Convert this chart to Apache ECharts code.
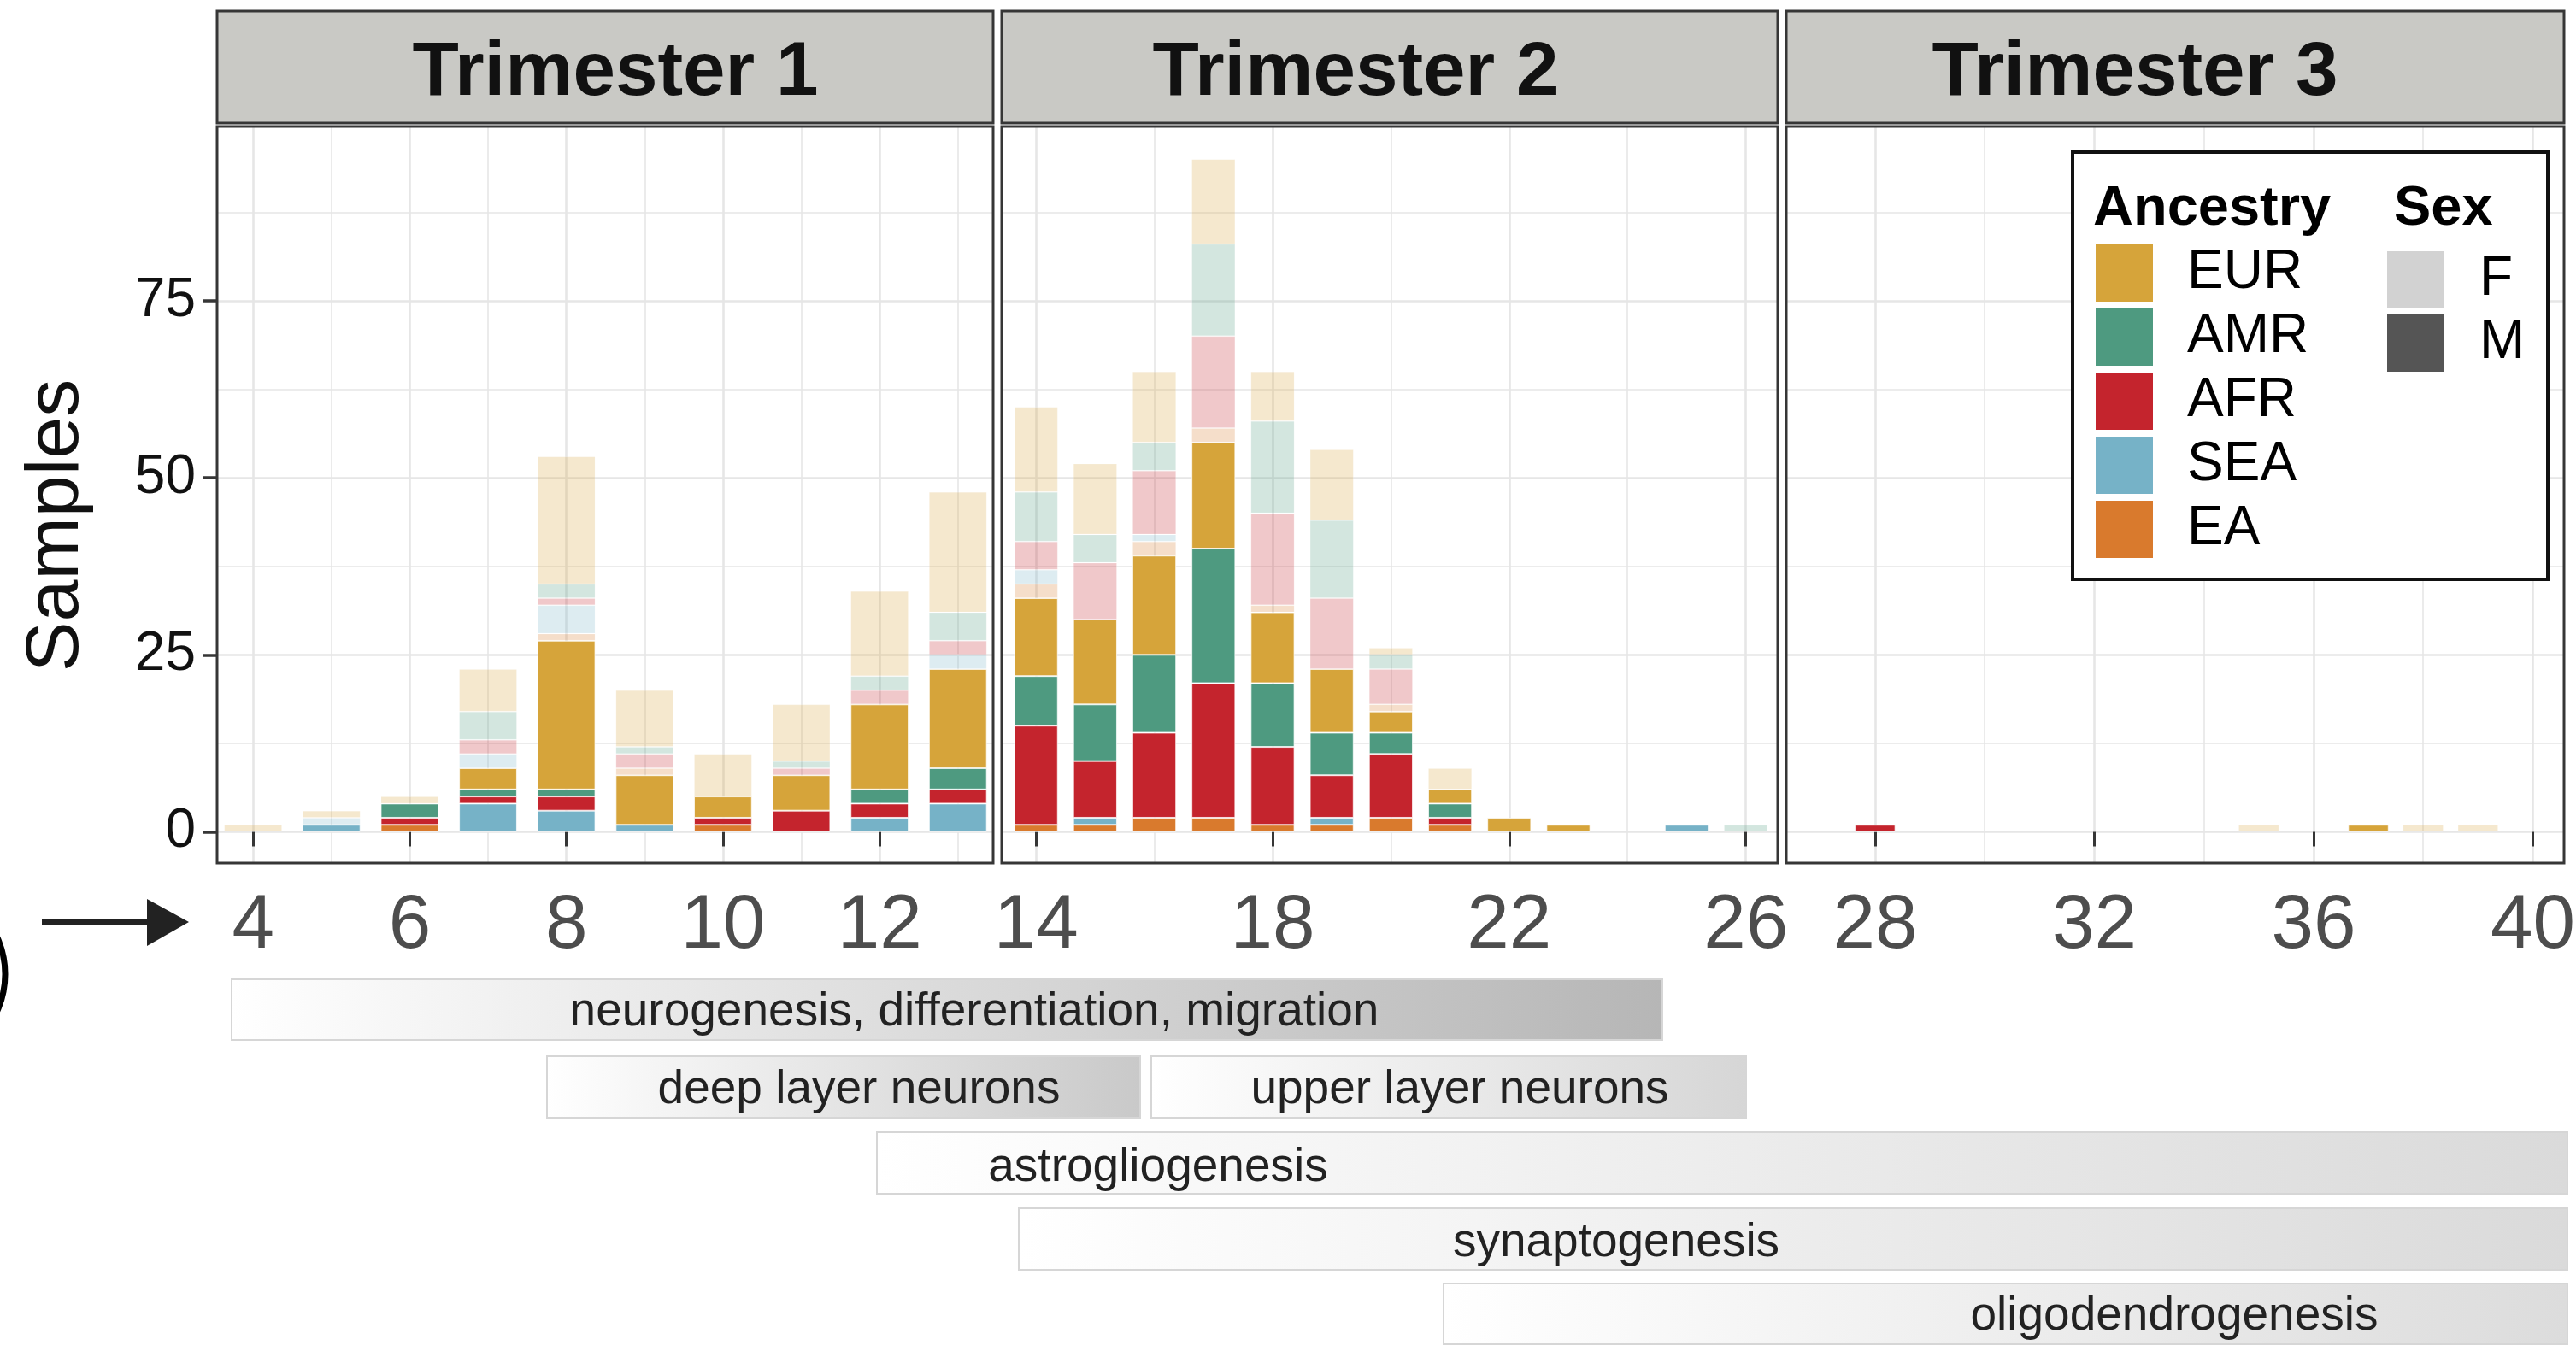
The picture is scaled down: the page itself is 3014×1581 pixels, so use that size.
<!DOCTYPE html>
<html><head><meta charset="utf-8">
<script src="https://cdn.jsdelivr.net/npm/echarts@6/dist/echarts.min.js"></script>
<style>html,body{margin:0;padding:0;background:#fff}#c{width:3014px;height:1581px}</style>
</head><body><div id="c"></div>
<script>
// ---------------- data ----------------
const weeks = [4,5,6,7,8,9,10,11,12,13,14,15,16,17,18,19,20,21,22,23,24,25,26,28,35,37,38,39];
const trimesters = ['Trimester 1','Trimester 2','Trimester 3'];
const trimesterWeekRange = [[4,13],[14,26],[27,40]];
const ancestryLegend = ['EUR','AMR','AFR','SEA','EA'];
const stackOrder = ['EA','SEA','AFR','AMR','EUR'];
const sexLegend = ['F','M'];
// Male counts per week
const EA_M  = [0,0,1,0,0,0,1,0,0,0, 1,1,2,2,1,1,2,1,0,0,0,0,0, 0,0,0,0,0];
const SEA_M = [0,1,0,4,3,1,0,0,2,4, 0,1,0,0,0,1,0,0,0,0,0,1,0, 0,0,0,0,0];
const AFR_M = [0,0,1,1,2,0,1,3,2,2, 14,8,12,19,11,6,9,1,0,0,0,0,0, 1,0,0,0,0];
const AMR_M = [0,0,2,1,1,0,0,0,2,3, 7,8,11,19,9,6,3,2,0,0,0,0,0, 0,0,0,0,0];
const EUR_M = [0,0,0,3,21,7,3,5,12,14, 11,12,14,15,10,9,3,2,2,1,0,0,0, 0,0,1,0,0];
// Female counts per week
const EA_F  = [0,0,0,0,1,1,0,0,0,0, 2,0,2,2,1,0,1,0,0,0,0,0,0, 0,0,0,0,0];
const SEA_F = [0,1,0,2,4,0,0,0,0,2, 2,0,1,0,0,0,0,0,0,0,0,0,0, 0,0,0,0,0];
const AFR_F = [0,0,0,2,1,2,0,1,2,2, 4,8,9,13,13,10,5,0,0,0,0,0,0, 0,0,0,0,0];
const AMR_F = [0,0,0,4,2,1,0,1,2,4, 7,4,4,13,13,11,2,0,0,0,0,0,1, 0,0,0,0,0];
const EUR_F = [1,1,1,6,18,8,6,8,12,17, 12,10,10,12,7,10,1,3,0,0,0,0,0, 0,1,0,1,1];
// tick labels
const xTicks = [[4,6,8,10,12],[14,18,22,26],[28,32,36,40]];
const xMinor = [[5,7,9,11,13],[16,20,24],[30,34,38]];
const yTicks = [0,25,50,75];
const yMinor = [12.5,37.5,62.5,87.5];
const stages = ['neurogenesis, differentiation, migration','deep layer neurons','upper layer neurons','astrogliogenesis','synaptogenesis','oligodendrogenesis'];

// ---------------- styling / layout ----------------
const FONT = '"Liberation Sans", Arial, Helvetica, sans-serif';
const COLORS = {EUR:'#D6A43A', AMR:'#4E9A80', AFR:'#C4242D', SEA:'#76B2C7', EA:'#D97A2D'};
const SEXCOL = {F:'#D2D2D2', M:'#555555'};
const VALUES = {EA_M,SEA_M,AFR_M,AMR_M,EUR_M,EA_F,SEA_F,AFR_F,AMR_F,EUR_F};
const gridLeft = [254, 1172, 2090];
const gridWidth = [908, 908, 910];
const gridTop = 148, gridHeight = 862;
const xRange = [[3.54,13.45],[13.42,26.54],[26.38,40.57]];
const yMin = -4.4, yMax = 99.6;
const BAR_FRAC = 0.74;
const GRID_COL = '#E6E6E6';
const BORDER_COL = '#363636';
const stripTextX = [720, 1586, 2498];

const series = [];
for (let p = 0; p < 3; p++) {
  const idx = weeks.map((w,i)=>i).filter(i => weeks[i] >= trimesterWeekRange[p][0] && weeks[i] <= trimesterWeekRange[p][1]);
  const pxPerWeek = gridWidth[p] / (xRange[p][1] - xRange[p][0]);
  // gridlines via markLine on a helper series
  const ml = [];
  xTicks[p].forEach(v => ml.push({xAxis: v, lineStyle:{width:2.6, color:GRID_COL, type:'solid'}}));
  xMinor[p].forEach(v => ml.push({xAxis: v, lineStyle:{width:1.6, color:GRID_COL, type:'solid'}}));
  yTicks.forEach(v => ml.push({yAxis: v, lineStyle:{width:2.6, color:GRID_COL, type:'solid'}}));
  yMinor.forEach(v => ml.push({yAxis: v, lineStyle:{width:1.6, color:GRID_COL, type:'solid'}}));
  series.push({
    type:'line', name:'grid'+p, xAxisIndex:p, yAxisIndex:p, data:[], silent:true, z:0,
    markLine:{silent:true, symbol:['none','none'], label:{show:false}, animation:false, z:0, emphasis:{disabled:true}, data: ml}
  });
  for (const sex of ['M','F']) {
    for (const anc of stackOrder) {
      const arr = VALUES[anc + '_' + sex];
      series.push({
        type:'bar', name: anc + ' ' + sex, xAxisIndex:p, yAxisIndex:p, stack:'s'+p,
        barWidth: BAR_FRAC * pxPerWeek, silent:true, z:2,
        encode:{x:1, y:0},
        itemStyle:{color: COLORS[anc], opacity: sex === 'F' ? 0.25 : 1, borderColor:'rgba(255,255,255,0.7)', borderWidth:1},
        // [count, week] so that the stacked dimension is the count
        data: idx.map(i => [arr[i] > 0 ? arr[i] : null, weeks[i]])
      });
    }
  }
}
// legend proxy series
ancestryLegend.forEach(a => series.push({type:'scatter', name:a, data:[], itemStyle:{color:COLORS[a], opacity:1}, xAxisIndex:0, yAxisIndex:0}));
sexLegend.forEach(s => series.push({type:'scatter', name:s, data:[], itemStyle:{color:SEXCOL[s], opacity:1}, xAxisIndex:0, yAxisIndex:0}));

const grids = [0,1,2].map(p => ({left:gridLeft[p], top:gridTop, width:gridWidth[p], height:gridHeight, show:false, containLabel:false, outerBoundsMode:'none'}));
const xAxes = [0,1,2].map(p => ({
  type:'value', gridIndex:p, min:xRange[p][0], max:xRange[p][1],
  axisLine:{show:false}, splitLine:{show:false},
  axisTick:{show:true, length:17, inside:false, customValues:xTicks[p], lineStyle:{color:BORDER_COL, width:3}},
  axisLabel:{show:true, customValues:xTicks[p], margin:30, fontSize:89, color:'#4d4d4d', fontFamily:FONT}
}));
const yAxes = [0,1,2].map(p => ({
  type:'value', gridIndex:p, min:yMin, max:yMax,
  axisLine:{show:false}, splitLine:{show:false},
  axisTick:{show:p===0, length:17, customValues:yTicks, lineStyle:{color:BORDER_COL, width:3.5}},
  axisLabel:{show:p===0, customValues:yTicks, margin:25, fontSize:64, color:'#111', fontFamily:FONT}
}));

const graphic = [];
// panel borders and strips
for (let p = 0; p < 3; p++) {
  graphic.push({type:'rect', z:60, silent:true, shape:{x:gridLeft[p], y:gridTop, width:gridWidth[p], height:gridHeight},
    style:{fill:null, stroke:BORDER_COL, lineWidth:3}});
  graphic.push({type:'rect', z:60, silent:true, shape:{x:gridLeft[p], y:13, width:gridWidth[p], height:131},
    style:{fill:'#C9C9C5', stroke:BORDER_COL, lineWidth:3}});
  graphic.push({type:'text', z:61, silent:true, x:stripTextX[p], y:86,
    style:{text:trimesters[p], font:'bold 89px ' + FONT, fill:'#111', align:'center', verticalAlign:'middle'}});
}
// y axis title
graphic.push({type:'text', silent:true, x:67, y:615, rotation:Math.PI/2,
  style:{text:'Samples', font:'88px ' + FONT, fill:'#111', align:'center', verticalAlign:'middle'}});
// legend box and titles
graphic.push({type:'rect', z:3, silent:true, shape:{x:2425, y:178, width:556, height:500}, style:{fill:'#fff', stroke:'#111', lineWidth:4}});
graphic.push({type:'text', z:5, silent:true, x:2449, y:245, style:{text:'Ancestry', font:'bold 65px ' + FONT, fill:'#000', verticalAlign:'middle'}});
graphic.push({type:'text', z:5, silent:true, x:2801, y:245, style:{text:'Sex', font:'bold 65px ' + FONT, fill:'#000', verticalAlign:'middle'}});
// arrow
graphic.push({type:'line', silent:true, shape:{x1:49, y1:1079, x2:185, y2:1079}, style:{stroke:'#222', lineWidth:6}});
graphic.push({type:'polygon', silent:true, shape:{points:[[172,1052],[221,1079],[172,1107]]}, style:{fill:'#222'}});
// cropped circle at left edge
graphic.push({type:'circle', silent:true, shape:{cx:-100, cy:1140, r:106}, style:{fill:null, stroke:'#000', lineWidth:7}});
// developmental stage bars
const stageBoxes = [
  [271,1146,1674,71,'#B6B6B6',1140,3],
  [640,1236,694,72,'#C9C9C9',1005,4],
  [1347,1236,696,72,'#D6D6D6',1708,4],
  [1026,1325,1978,72,'#DADADA',1355,6],
  [1192,1414,1812,72,'#DADADA',1891,5],
  [1689,1502,1315,71,'#DCDCDC',2544,3]
];
stageBoxes.forEach((b,i) => {
  graphic.push({type:'rect', silent:true, shape:{x:b[0], y:b[1], width:b[2], height:b[3]},
    style:{fill:new echarts.graphic.LinearGradient(0,0,1,0,[{offset:0,color:'#FFFFFF'},{offset:1,color:b[4]}]), stroke:'#D6D6D6', lineWidth:2}});
  graphic.push({type:'text', silent:true, x:b[5], y:b[1] + b[3]/2 + b[6], z:2,
    style:{text:stages[i], font:'55px ' + FONT, fill:'#222', align:'center', verticalAlign:'middle'}});
});

const option = {
  animation:false,
  backgroundColor:'#fff',
  textStyle:{fontFamily:FONT},
  grid: grids, xAxis: xAxes, yAxis: yAxes,
  legend:[
    {data:ancestryLegend, orient:'vertical', left:2452, top:286, itemWidth:67, itemHeight:67, itemGap:8, icon:'rect',
     selectedMode:false, padding:0, z:5, textStyle:{fontSize:64, color:'#000', fontFamily:FONT, padding:[0,0,0,35], lineHeight:64}},
    {data:sexLegend, orient:'vertical', left:2793, top:294, itemWidth:66, itemHeight:67, itemGap:7, icon:'rect',
     selectedMode:false, padding:0, z:5, textStyle:{fontSize:64, color:'#000', fontFamily:FONT, padding:[0,0,0,37], lineHeight:64}}
  ],
  series: series,
  graphic: graphic
};
const chart = echarts.init(document.getElementById('c'), null, {renderer:'canvas'});
chart.setOption(option);
</script></body></html>
